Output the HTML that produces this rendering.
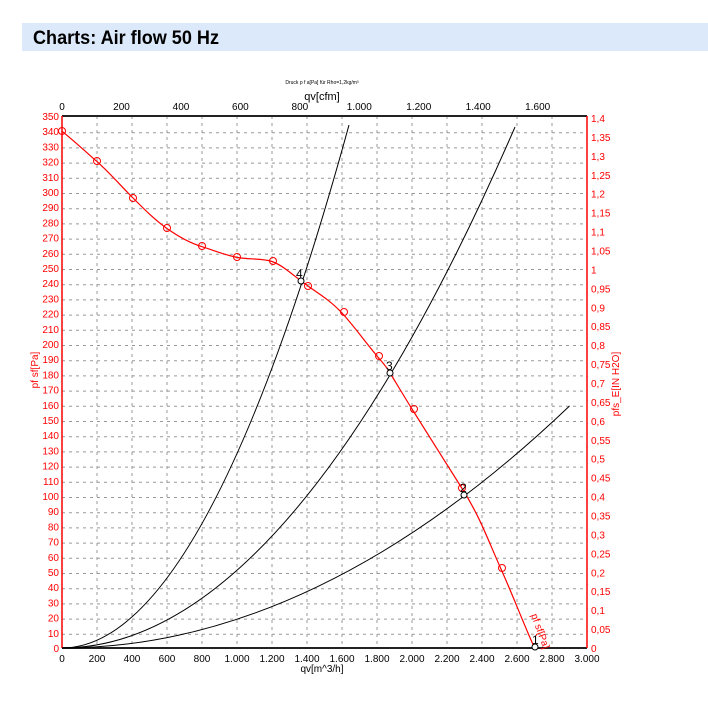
<!DOCTYPE html>
<html><head><meta charset="utf-8"><style>
body{margin:0;background:#fff;width:708px;height:696px;overflow:hidden;font-family:"Liberation Sans",sans-serif}
svg text{font-family:"Liberation Sans",sans-serif}
</style></head><body>
<svg width="708" height="696" viewBox="0 0 708 696" xmlns="http://www.w3.org/2000/svg">
<rect x="22" y="23" width="686" height="28" fill="#dce9fb"/>
<text x="33" y="44" font-size="19" font-weight="bold" fill="#000" textLength="186" lengthAdjust="spacingAndGlyphs">Charts: Air flow 50 Hz</text>
<text x="322" y="84" font-size="5" text-anchor="middle" fill="#000">Druck p f a[Pa] für Rho=1,2kg/m³</text>
<text x="322" y="100" font-size="11" text-anchor="middle" fill="#000">qv[cfm]</text>
<g stroke="#999" stroke-width="1" stroke-dasharray="3,4">
<path d="M97 116V648M132 116V648M167 116V648M202 116V648M237 116V648M272 116V648M307 116V648M342 116V648M377 116V648M412 116V648M447 116V648M482 116V648M517 116V648M552 116V648"/>
<path d="M62 132.8H587M62 147.9H587M62 163.1H587M62 178.3H587M62 193.5H587M62 208.7H587M62 223.9H587M62 239.1H587M62 254.3H587M62 269.5H587M62 284.7H587M62 299.9H587M62 315.1H587M62 330.3H587M62 345.5H587M62 360.7H587M62 375.9H587M62 391.1H587M62 406.3H587M62 421.5H587M62 436.7H587M62 451.9H587M62 467.1H587M62 482.3H587M62 497.5H587M62 512.7H587M62 527.9H587M62 543.1H587M62 558.3H587M62 573.5H587M62 588.7H587M62 603.9H587M62 619.1H587M62 634.3H587"/>
</g>
<line x1="62" y1="116" x2="587" y2="116" stroke="#222" stroke-width="2"/>
<line x1="62" y1="648" x2="587" y2="648" stroke="#222" stroke-width="2"/>
<line x1="62" y1="116" x2="62" y2="648" stroke="#f00" stroke-width="1.5"/>
<line x1="587" y1="116" x2="587" y2="648" stroke="#f00" stroke-width="1.5"/>
<g fill="#000" font-size="10" text-anchor="middle">
<text x="62" y="110">0</text><text x="121.5" y="110">200</text><text x="181" y="110">400</text><text x="240.4" y="110">600</text><text x="299.9" y="110">800</text><text x="359.3" y="110">1.000</text><text x="418.8" y="110">1.200</text><text x="478.2" y="110">1.400</text><text x="537.7" y="110">1.600</text>
<text x="62" y="662">0</text><text x="97" y="662">200</text><text x="132" y="662">400</text><text x="167" y="662">600</text><text x="202" y="662">800</text><text x="237" y="662">1.000</text><text x="272" y="662">1.200</text><text x="307" y="662">1.400</text><text x="342" y="662">1.600</text><text x="377" y="662">1.800</text><text x="412" y="662">2.000</text><text x="447" y="662">2.200</text><text x="482" y="662">2.400</text><text x="517" y="662">2.600</text><text x="552" y="662">2.800</text><text x="587" y="662">3.000</text>
<text x="322" y="672" font-size="10">qv[m^3/h]</text>
</g>
<g fill="#f00" font-size="10" text-anchor="end">
<text x="59" y="652">0</text><text x="59" y="636.8">10</text><text x="59" y="621.6">20</text><text x="59" y="606.4">30</text><text x="59" y="591.2">40</text><text x="59" y="576">50</text><text x="59" y="560.8">60</text><text x="59" y="545.6">70</text><text x="59" y="530.4">80</text><text x="59" y="515.2">90</text><text x="59" y="500">100</text><text x="59" y="484.8">110</text><text x="59" y="469.6">120</text><text x="59" y="454.4">130</text><text x="59" y="439.2">140</text><text x="59" y="424">150</text><text x="59" y="408.8">160</text><text x="59" y="393.6">170</text><text x="59" y="378.4">180</text><text x="59" y="363.2">190</text><text x="59" y="348">200</text><text x="59" y="332.8">210</text><text x="59" y="317.6">220</text><text x="59" y="302.4">230</text><text x="59" y="287.2">240</text><text x="59" y="272">250</text><text x="59" y="256.8">260</text><text x="59" y="241.6">270</text><text x="59" y="226.4">280</text><text x="59" y="211.2">290</text><text x="59" y="196">300</text><text x="59" y="180.8">310</text><text x="59" y="165.6">320</text><text x="59" y="150.4">330</text><text x="59" y="135.2">340</text><text x="59" y="120">350</text>
</g>
<g fill="#f00" font-size="10" text-anchor="start">
<text x="591" y="652">0</text><text x="591" y="633.1">0,05</text><text x="591" y="614.1">0,1</text><text x="591" y="595.2">0,15</text><text x="591" y="576.3">0,2</text><text x="591" y="557.3">0,25</text><text x="591" y="538.4">0,3</text><text x="591" y="519.5">0,35</text><text x="591" y="500.6">0,4</text><text x="591" y="481.6">0,45</text><text x="591" y="462.7">0,5</text><text x="591" y="443.8">0,55</text><text x="591" y="424.8">0,6</text><text x="591" y="405.9">0,65</text><text x="591" y="387">0,7</text><text x="591" y="368">0,75</text><text x="591" y="349.1">0,8</text><text x="591" y="330.2">0,85</text><text x="591" y="311.3">0,9</text><text x="591" y="292.3">0,95</text><text x="591" y="273.4">1</text><text x="591" y="254.5">1,05</text><text x="591" y="235.5">1,1</text><text x="591" y="216.6">1,15</text><text x="591" y="197.7">1,2</text><text x="591" y="178.8">1,25</text><text x="591" y="159.8">1,3</text><text x="591" y="140.9">1,35</text><text x="591" y="122">1,4</text>
<text transform="translate(38,370) rotate(-90)" text-anchor="middle">pf sf[Pa]</text>
<text transform="translate(619,384) rotate(-90)" text-anchor="middle">pfs_E[IN H2O]</text>
<text transform="translate(531,615) rotate(70)" font-size="10">pf sf[Pa]</text>
</g>
<g fill="none" stroke="#000" stroke-width="1">
<path d="M62 648Q205.5 648 349 125"/>
<path d="M62 648Q288.6 648 515 127"/>
<path d="M62 648Q315.8 648 569.5 406"/>
</g>
<path d="M62 131.2C74 141 85 151 97 161.6S121 186 133 198S155 220 167 228.5S190 243 202 246.7S225 255 237 257.4S262 258 272 261.5S292 274 301 281S300 280 308 286S330 300 342 313S366 343 377 356S385 365 390 373S402 393 412 409S446 463 463 490S488 540 501 569S522 620 534.5 648" fill="none" stroke="#f00" stroke-width="1.2"/>
<g fill="none" stroke="#f00" stroke-width="1">
<circle cx="62" cy="131" r="3.5"/><circle cx="97" cy="161" r="3.5"/><circle cx="133" cy="198" r="3.5"/><circle cx="167" cy="228" r="3.5"/><circle cx="202" cy="246" r="3.5"/><circle cx="237" cy="257" r="3.5"/><circle cx="273" cy="261" r="3.5"/><circle cx="308" cy="286" r="3.5"/><circle cx="344" cy="312" r="3.5"/><circle cx="379" cy="356" r="3.5"/><circle cx="414" cy="409" r="3.5"/><circle cx="462" cy="488" r="3.5"/><circle cx="502" cy="568" r="3.5"/>
</g>
<g fill="#fff" stroke="#000" stroke-width="1">
<circle cx="301" cy="281" r="3"/><circle cx="390" cy="373" r="3"/><circle cx="464" cy="495" r="3"/><circle cx="535" cy="647" r="3"/>
</g>
<g fill="#000" font-size="12">
<text x="296" y="278">4</text><text x="386" y="370">3</text><text x="460" y="492">2</text><text x="532" y="644">1</text>
</g>
</svg>
</body></html>
